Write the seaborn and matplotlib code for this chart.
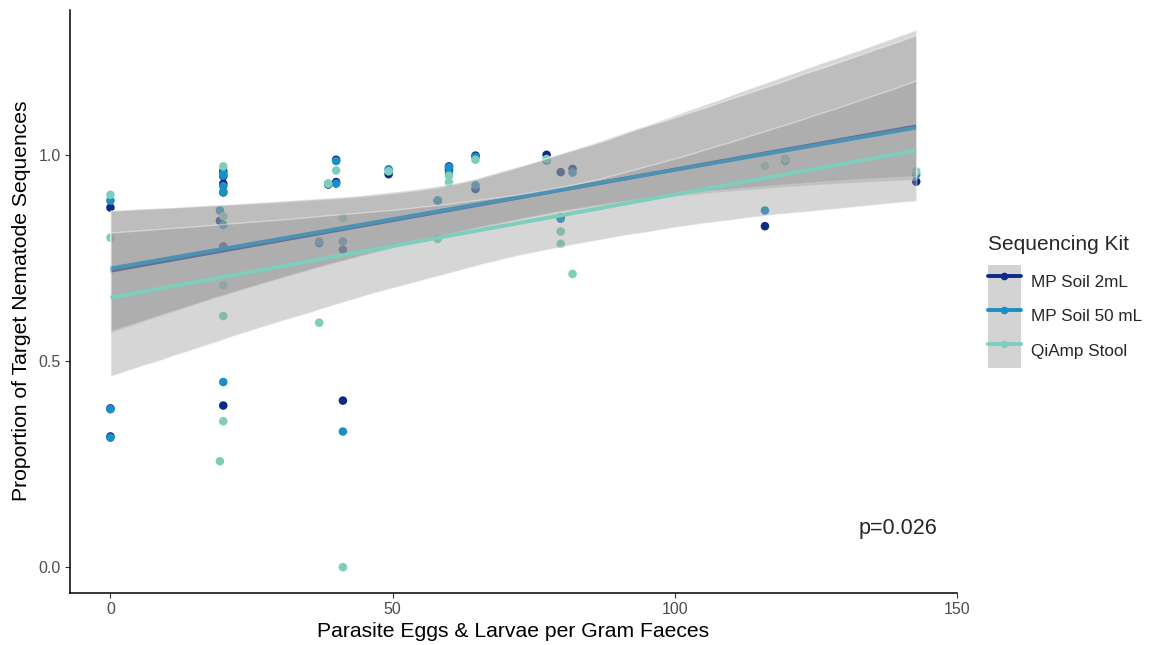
import pandas as pd
import matplotlib
matplotlib.use("Agg")
import matplotlib.pyplot as plt
import seaborn as sns
from matplotlib.lines import Line2D
from matplotlib.patches import Patch
from matplotlib.legend_handler import HandlerTuple

# data (eggs per gram, proportion of target sequences)
kits = ["MP Soil 2mL", "MP Soil 50 mL", "QiAmp Stool"]
kit_colors = ["#0B2B86", "#1B8EC6", "#7DCFBC"]

soil2_x = [0, 0, 0, 20, 20, 20, 20, 20, 19.4, 20, 37, 38.6, 40, 40, 41.2, 41.2, 49.3, 58, 60, 60,
           64.7, 64.7, 77.3, 79.8, 79.8, 81.9, 116, 119.6, 142.8]
soil2_y = [0.872, 0.385, 0.317, 0.960, 0.948, 0.930, 0.909, 0.392, 0.840, 0.778, 0.786, 0.928, 0.934,
           0.988, 0.404, 0.770, 0.953, 0.889, 0.972, 0.964, 0.998, 0.917, 1.000, 0.958, 0.848,
           0.966, 0.827, 0.990, 0.935]

soil50_x = [0, 0, 0, 20, 20, 20, 19.4, 20, 20, 20, 37, 38.6, 40, 40, 41.2, 41.2, 49.3, 58, 60, 60,
            64.7, 64.7, 77.3, 79.8, 81.9, 116, 119.6, 142.8]
soil50_y = [0.889, 0.383, 0.314, 0.955, 0.924, 0.910, 0.865, 0.830, 0.449, 0.950, 0.790, 0.930,
            0.930, 0.985, 0.329, 0.790, 0.965, 0.889, 0.970, 0.955, 0.995, 0.926, 0.986, 0.845,
            0.957, 0.865, 0.985, 0.952]

stool_x = [0, 0, 20, 20, 20, 20, 20, 19.4, 37, 38.6, 40, 41.2, 41.2, 49.3, 58, 60, 60, 64.7, 77.3,
           79.8, 79.8, 81.9, 116, 119.6, 142.8]
stool_y = [0.903, 0.799, 0.972, 0.851, 0.684, 0.609, 0.354, 0.257, 0.593, 0.930, 0.962, 0.847,
           0.000, 0.960, 0.796, 0.933, 0.949, 0.988, 0.990, 0.814, 0.784, 0.711, 0.973, 0.990, 0.960]

x_ticks = [0, 50, 100, 150]
y_ticks = [0.0, 0.5, 1.0]
p_label = "p=0.026"

df = pd.concat([
    pd.DataFrame({"eggs": soil2_x, "prop": soil2_y, "kit": kits[0]}),
    pd.DataFrame({"eggs": soil50_x, "prop": soil50_y, "kit": kits[1]}),
    pd.DataFrame({"eggs": stool_x, "prop": stool_y, "kit": kits[2]}),
], ignore_index=True)

sns.set_style("ticks")
plt.rcParams["font.family"] = ["Liberation Sans", "DejaVu Sans"]

fig = plt.figure(figsize=(11.5, 6.45), dpi=100)
ax = fig.add_axes([0.061, 0.081, 0.771, 0.904])

# points go underneath the confidence ribbons, like ggplot
sns.scatterplot(data=df, x="eggs", y="prop", hue="kit", hue_order=kits, palette=kit_colors,
                s=38, linewidth=0, legend=False, ax=ax, zorder=1)

for i, (kit, col) in enumerate(zip(kits, kit_colors)):
    sub = df[df["kit"] == kit]
    n_coll = len(ax.collections)
    n_lines = len(ax.lines)
    sns.regplot(data=sub, x="eggs", y="prop", scatter=False, ci=95, n_boot=8000, seed=3,
                color=col, ax=ax, truncate=True, line_kws={"linewidth": 2.8})
    # grey ribbon drawn over earlier groups, as ggplot's geom_smooth does
    for b in ax.collections[n_coll:]:
        b.set_facecolor("#999999")
        b.set_alpha(0.4)
        b.set_zorder(3 + 2 * i)
    for ln in ax.lines[n_lines:]:
        ln.set_zorder(4 + 2 * i)
        ln.set_solid_capstyle("butt")

ax.set_xlim(-7.14, 150)
ax.set_ylim(-0.062, 1.352)
ax.set_xticks(x_ticks)
ax.set_xticklabels([str(t) for t in x_ticks])
ax.set_yticks(y_ticks)
ax.set_yticklabels([f"{t:.1f}" for t in y_ticks])
ax.tick_params(axis="both", labelsize=11.5, labelcolor="#4D4D4D", color="#333333", length=3.5,
               pad=3)
ax.set_xlabel("Parasite Eggs & Larvae per Gram Faeces", fontsize=15.2, color="black", labelpad=4)
ax.set_ylabel("Proportion of Target Nematode Sequences", fontsize=15.2, color="black", labelpad=6)
sns.despine(ax=ax)
for sp in ["left", "bottom"]:
    ax.spines[sp].set_color("black")
    ax.spines[sp].set_linewidth(1.1)

ax.text(0.934, 0.111, p_label, transform=ax.transAxes, ha="center", va="center", fontsize=15.5)

handles = []
for col in kit_colors:
    handles.append((Patch(facecolor="#D3D3D3", edgecolor="none"),
                    Line2D([], [], color=col, linewidth=2.8, marker="o", markersize=5.5,
                           markeredgewidth=0)))
leg = ax.legend(handles, kits, title="Sequencing Kit", loc="center left",
                bbox_to_anchor=(1.0, 0.5), frameon=False, fontsize=12.3, title_fontsize=15,
                handler_map={tuple: HandlerTuple(ndivide=1, pad=0)},
                handlelength=1.95, handleheight=2.7, labelspacing=0, handletextpad=0.6,
                borderaxespad=1.8, borderpad=0)
leg._legend_box.align = "left"
leg._legend_box.sep = 8

fig.savefig("out.png", dpi=100)
